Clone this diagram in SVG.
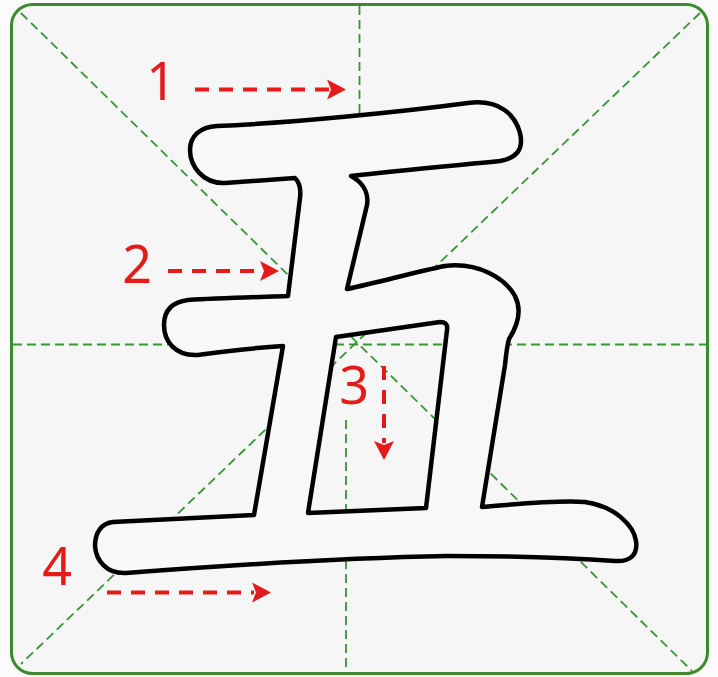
<svg xmlns="http://www.w3.org/2000/svg" width="718" height="677" viewBox="0 0 718 677">
  <defs>
    <style>
      .grid { stroke: #379535; stroke-width: 1.8; stroke-dasharray: 9 5; fill: none; }
      .arrow { stroke: #e51b1b; stroke-width: 4; stroke-dasharray: 14 10; fill: none; }
      .label { font-family: "Noto Sans", "Liberation Sans", sans-serif; font-size: 52px; fill: #e51b1b; text-anchor: middle; }
      .glyph { fill: #f8f8f8; stroke: #000; stroke-width: 4.5; stroke-linejoin: round; fill-rule: evenodd; }
    </style>
    <marker id="head" markerUnits="userSpaceOnUse" markerWidth="20" markerHeight="22" refX="2" refY="11" orient="auto">
      <path d="M0,1 L19,11 L0,21 L4,11 Z" fill="#e51b1b"/>
    </marker>
  </defs>

  <rect x="0" y="0" width="718" height="677" fill="#fbfbfb"/>
  <rect id="frame" x="11.5" y="4.5" width="696" height="669" rx="21" fill="#f6f6f6" stroke="#3b8a2d" stroke-width="3"/>

  <g id="guides">
    <line class="grid" x1="13" y1="344.5" x2="707" y2="344.5"/>
    <line class="grid" x1="359.5" y1="6" x2="359.5" y2="125"/>
    <line class="grid" x1="346" y1="420" x2="346" y2="672"/>
    <line class="grid" x1="21" y1="13" x2="692" y2="671"/>
    <line class="grid" x1="700" y1="13" x2="21" y2="664"/>
  </g>

  <g id="character">
    <path class="glyph" d="M 217,126 C 290,123 400,112 468,103 C 500,99 515,115 520,133 C 524,150 516,158 500,161 C 450,166 400,170 351,176 C 362,182 369,192 367,205 L 347,289 C 380,282 415,272 445,266 C 478,262 505,278 515,296 C 522,310 518,325 509,339 C 507,346 506,355 505,365 L 482,507 C 520,504 555,500 585,502 C 615,506 634,526 636,541 C 638,555 630,562 615,561 C 560,557 500,556 447,556 C 340,558 230,565 126,573 C 106,574 96,560 95,546 C 95,532 102,523 113,522 L 254,515 L 283,346 C 250,348 220,352 197,355 C 175,356 164,341 164,325 C 164,310 172,302 188,300 C 220,298 260,297 288,296 L 300,198 C 301,190 300,183 295,178 L 225,183 C 203,184 190,166 190,150 C 190,136 200,127 217,126 Z M 336,337 L 440,322 C 446,322 448,325 447,330 L 426,508 L 308,513 Z"/>
  </g>

  <g id="stroke-1">
    <line class="arrow" x1="195" y1="89.5" x2="329" y2="89.5" marker-end="url(#head)"/>
    <text class="label" x="161" y="100">1</text>
  </g>
  <g id="stroke-2">
    <line class="arrow" x1="168" y1="271" x2="262" y2="271" marker-end="url(#head)"/>
    <text class="label" x="137" y="283">2</text>
  </g>
  <g id="stroke-3">
    <line class="arrow" x1="384" y1="366" x2="384" y2="443" marker-end="url(#head)"/>
    <text class="label" x="354" y="404">3</text>
  </g>
  <g id="stroke-4">
    <line class="arrow" x1="107" y1="592.5" x2="254" y2="592.5" marker-end="url(#head)"/>
    <text class="label" x="57" y="585">4</text>
  </g>
</svg>
